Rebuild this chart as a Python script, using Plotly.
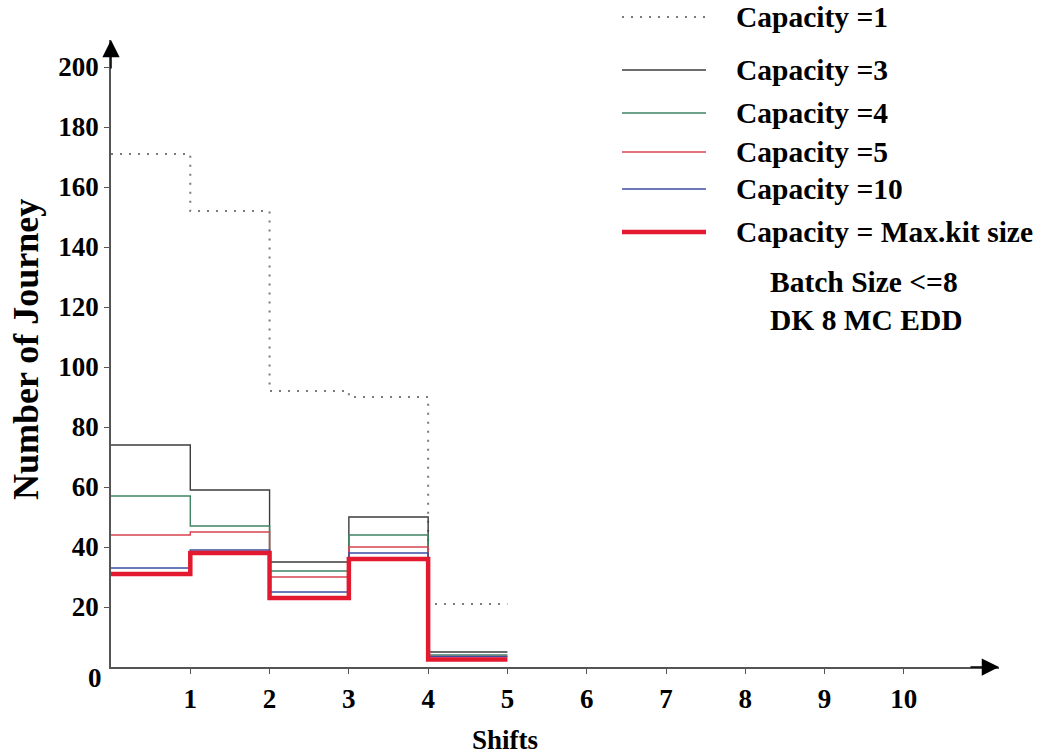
import plotly.graph_objects as go

# Shift boundaries and number of journeys per shift for each capacity setting
shifts = [0, 1, 2, 3, 4, 5]
cap_1 = [171, 152, 92, 90, 21]
cap_3 = [74, 59, 35, 50, 5]
cap_4 = [57, 47, 32, 44, 4]
cap_5 = [44, 45, 30, 40, 3.5]
cap_10 = [33, 39, 25, 38, 3.5]
cap_max = [31, 38, 23, 36, 2.5]

series_names = ["Capacity =1", "Capacity =3", "Capacity =4", "Capacity =5",
                "Capacity =10", "Capacity = Max.kit size"]
series_values = [cap_1, cap_3, cap_4, cap_5, cap_10, cap_max]
x_ticks = [1, 2, 3, 4, 5, 6, 7, 8, 9, 10]
y_ticks = [20, 40, 60, 80, 100, 120, 140, 160, 180, 200]
notes = ["Batch Size <=8", "DK 8 MC EDD"]

styles = [
    dict(color="#7a7a7a", width=2, dash="2px,7px"),
    dict(color="#3c3c3c", width=1.4, dash="solid"),
    dict(color="#3f8462", width=1.4, dash="solid"),
    dict(color="#d8434f", width=1.4, dash="solid"),
    dict(color="#3d4ea3", width=1.4, dash="solid"),
    dict(color="#e3192f", width=4.5, dash="solid"),
]

W, H = 1042, 755
ML, MR, MT, MB = 111, 43, 40, 88
PW, PH = W - ML - MR, H - MT - MB
FONT = "Liberation Serif"


def px_x(px):
    return (px - ML) / PW


def px_y(py):
    return (H - MB - py) / PH


fig = go.Figure()
for name, vals, st in zip(series_names, series_values, styles):
    fig.add_trace(go.Scatter(
        x=shifts, y=vals + [vals[-1]], mode="lines", name=name,
        line=dict(shape="hv", color=st["color"], width=st["width"], dash=st["dash"]),
        showlegend=False,
    ))

# Hand-placed legend: line sample plus label per series
legend_rows = [17, 70, 113, 152, 189, 232]
legend_font = dict(family=FONT, size=29.5, color="black", weight="bold")
shapes = []
annotations = []
for name, st, row in zip(series_names, styles, legend_rows):
    shapes.append(dict(
        type="line", xref="paper", yref="paper",
        x0=px_x(622), x1=px_x(706), y0=px_y(row), y1=px_y(row),
        line=dict(color=st["color"], width=st["width"], dash=st["dash"]),
    ))
    annotations.append(dict(
        xref="paper", yref="paper", x=px_x(734), y=px_y(row),
        xanchor="left", yanchor="middle", text=name, showarrow=False,
        font=legend_font,
    ))
for note, row in zip(notes, [282, 320]):
    annotations.append(dict(
        xref="paper", yref="paper", x=px_x(768), y=px_y(row),
        xanchor="left", yanchor="middle", text=note, showarrow=False,
        font=legend_font,
    ))

# Filled axis arrowheads
annotations.append(dict(xref="paper", yref="paper", x=0, y=1, ax=0, ay=30,
                        showarrow=True, arrowhead=2, arrowsize=2.3,
                        arrowwidth=1.5, arrowcolor="black", text=""))
annotations.append(dict(xref="paper", yref="paper", x=1, y=0, ax=-30, ay=0,
                        showarrow=True, arrowhead=2, arrowsize=2.3,
                        arrowwidth=1.5, arrowcolor="black", text=""))

# Origin label and axis titles
annotations.append(dict(xref="paper", yref="paper", x=px_x(95), y=0, yshift=-11,
                        text="0", showarrow=False, xanchor="center", yanchor="middle",
                        font=dict(family=FONT, size=27, color="black", weight="bold")))
annotations.append(dict(xref="paper", yref="paper", x=px_x(505), y=px_y(740),
                        text="Shifts", showarrow=False, xanchor="center", yanchor="middle",
                        font=dict(family=FONT, size=27, color="black", weight="bold")))
annotations.append(dict(xref="paper", yref="paper", x=px_x(26), y=px_y(350),
                        text="Number of Journey", showarrow=False, textangle=-90,
                        xanchor="center", yanchor="middle",
                        font=dict(family=FONT, size=36, color="black", weight="bold")))

fig.update_layout(
    width=W, height=H,
    margin=dict(l=ML, r=MR, t=MT, b=MB),
    paper_bgcolor="white", plot_bgcolor="white",
    shapes=shapes, annotations=annotations,
    xaxis=dict(range=[0, 11.2], tickvals=x_ticks, showgrid=False, zeroline=False,
               showline=True, linecolor="#555", linewidth=1.5,
               ticks="outside", ticklen=5, tickcolor="#555",
               ticklabelstandoff=2,
               tickfont=dict(family=FONT, size=27, color="black", weight="bold")),
    yaxis=dict(range=[0, 209], tickvals=y_ticks, showgrid=False, zeroline=False,
               showline=True, linecolor="#555", linewidth=1.5,
               ticks="outside", ticklen=5, tickcolor="#555",
               tickfont=dict(family=FONT, size=27, color="black", weight="bold")),
)

fig.write_html("out.html")
